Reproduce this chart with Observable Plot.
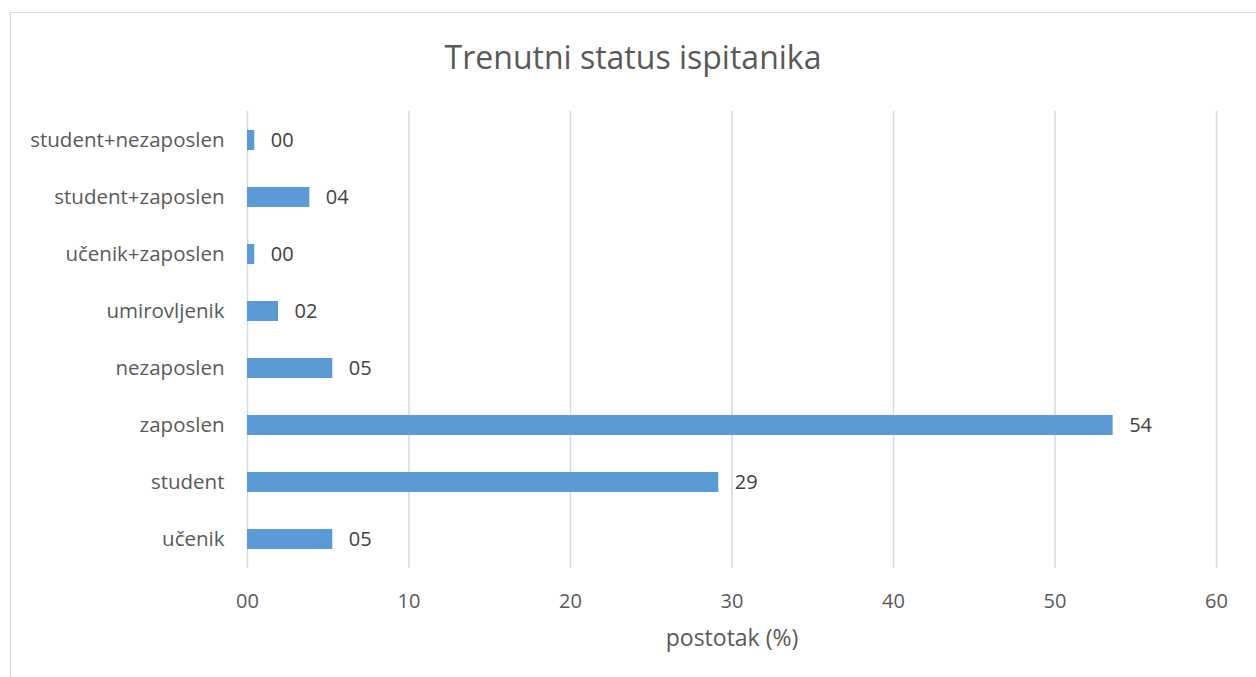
<!DOCTYPE html>
<html>
<head>
<meta charset="utf-8">
<script src="https://cdn.jsdelivr.net/npm/d3@7"></script>
<script src="https://cdn.jsdelivr.net/npm/@observablehq/plot@0.6"></script>
<style>
  html, body { margin: 0; padding: 0; background: #fff; }
  body { width: 1256px; height: 677px; overflow: hidden; position: relative; font-family: "Open Sans", sans-serif; }
  #frame { position: absolute; left: 10px; top: 12px; width: 1270px; height: 700px; border: 1.5px solid #d9d9d9; box-sizing: border-box; }
  #title { position: absolute; left: 10px; top: 0; width: 1246px; height: 100px; line-height: 114px; text-align: center; font-size: 32px; color: #595959; }
  #chart { position: absolute; left: 0; top: 100px; }
</style>
</head>
<body>
<div id="frame"></div>
<div id="title">Trenutni status ispitanika</div>
<div id="chart"></div>
<script>
const categories = ["student+nezaposlen", "student+zaposlen", "učenik+zaposlen", "umirovljenik", "nezaposlen", "zaposlen", "student", "učenik"];
const values = [0.45, 3.86, 0.45, 1.92, 5.28, 53.6, 29.18, 5.28];
const xTicks = [0, 10, 20, 30, 40, 50, 60];
const xLabel = "postotak (%)";

const data = categories.map((c, i) => ({category: c, value: values[i]}));
const fmt = d3.format("02d");

const chart = Plot.plot({
  width: 1256,
  height: 577,
  marginLeft: 247,
  marginRight: 40,
  marginTop: 11,
  marginBottom: 109,
  style: {fontFamily: "'Open Sans', sans-serif", fontSize: "20px", color: "#595959", background: "transparent"},
  x: {domain: [0, 60], ticks: xTicks, tickFormat: fmt},
  y: {domain: categories, paddingInner: 0.65, paddingOuter: 0.325},
  marks: [
    Plot.ruleX(xTicks, {stroke: "#d9d9d9", strokeWidth: 1.5}),
    Plot.barX(data, {x: "value", y: "category", fill: "#5B9BD5"}),
    Plot.text(data, {x: "value", y: "category", text: d => fmt(Math.round(d.value)), dx: 16, textAnchor: "start", fill: "#404040", fontSize: 20}),
    Plot.axisX({ticks: xTicks, tickFormat: fmt, tickSize: 0, tickPadding: 25, fontSize: 20, label: null}),
    Plot.axisY({tickSize: 0, tickPadding: 23, fontSize: 20.5, label: null}),
    Plot.text([xLabel], {frameAnchor: "bottom", dy: 70, lineAnchor: "middle", fill: "#595959", fontSize: 23})
  ]
});
document.getElementById("chart").appendChild(chart);
</script>
</body>
</html>
